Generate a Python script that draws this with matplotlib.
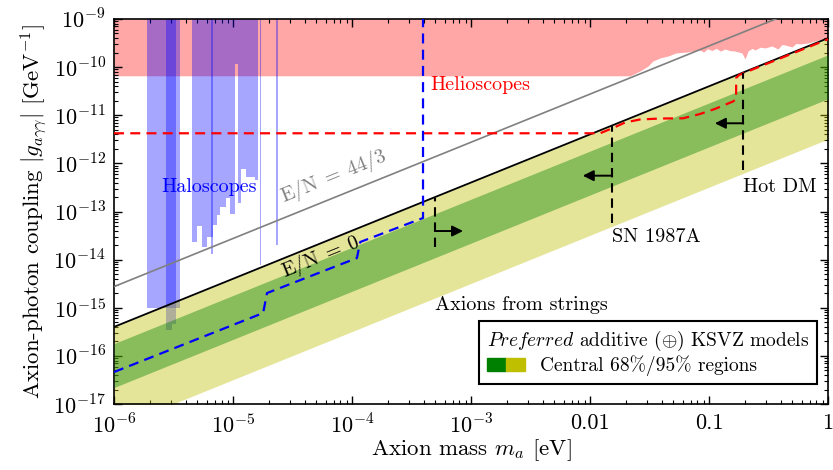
import numpy as np
import matplotlib
matplotlib.use("Agg")
import matplotlib.pyplot as plt
from matplotlib.patches import Patch
from matplotlib.legend_handler import HandlerTuple
from matplotlib.ticker import LogLocator, FixedLocator, FixedFormatter, NullFormatter

plt.rcParams['font.family'] = 'serif'
plt.rcParams['font.serif'] = ['cmr10']
plt.rcParams['mathtext.fontset'] = 'cm'
plt.rcParams['axes.formatter.use_mathtext'] = True

# --- data (mass in eV, coupling in GeV^-1) ---
# helioscope exclusion, lower edge
helio_m = [1e-6, 0.0217, 0.0263, 0.0307, 0.0338, 0.0387, 0.0452, 0.0528, 0.0653,
           0.0839, 0.090, 0.097, 0.106, 0.115, 0.125, 0.136, 0.150, 0.165, 0.189,
           0.201, 0.213, 0.230, 0.244, 0.270, 0.296, 0.338, 0.380, 0.410, 0.436,
           0.498, 0.540, 0.582, 0.679, 0.778, 0.891, 1.0]
helio_g = [6.6e-11, 6.6e-11, 8.3e-11, 1.05e-10, 1.34e-10, 1.55e-10, 1.70e-10, 1.97e-10, 2.06e-10,
           2.27e-10, 2.05e-10, 2.40e-10, 2.21e-10, 2.45e-10, 2.15e-10, 2.38e-10, 2.20e-10, 2.16e-10, 1.97e-10,
           1.48e-10, 2.16e-10, 2.45e-10, 2.27e-10, 2.60e-10, 2.50e-10, 2.75e-10, 2.38e-10, 2.95e-10, 2.88e-10,
           2.62e-10, 3.10e-10, 3.03e-10, 3.17e-10, 3.49e-10, 3.84e-10, 4.23e-10]

# haloscope exclusions (blue)
haloA_m = [1.91e-6, 3.60e-6]
haloA_g = [1.0e-15, 1.0e-15]
haloB_m = [4.50e-6, 5.01e-6, 5.46e-6, 6.01e-6, 6.53e-6, 6.75e-6, 7.29e-6, 7.78e-6,
           8.73e-6, 9.44e-6, 1.04e-5, 1.11e-5, 1.17e-5, 1.29e-5, 1.53e-5, 1.63e-5]
haloB_g = [2.35e-14, 5.0e-14, 1.86e-14, 3.0e-14, 3.0e-14, 5.2e-14, 8.5e-14, 1.26e-13,
           1.94e-13, 8.7e-14, 1.16e-10, 1.5e-13, 7.6e-13, 5.1e-13, 4.5e-13, 4.5e-13]
# narrow haloscope bars: left edge, right edge, lower limit
bars_lo = [2.75e-6, 3.05e-6, 6.53e-6, 1.68e-5, 2.30e-5]
bars_hi = [3.05e-6, 3.30e-6, 6.75e-6, 1.71e-5, 2.41e-5]
bars_g = [3.4e-16, 4.5e-16, 1.3e-14, 7.9e-15, 2.0e-14]

# projections
helio_proj_m = [1e-6, 0.01213, 0.0156, 0.0197, 0.0263, 0.0387, 0.0605, 0.0839, 0.112,
                0.159, 0.169, 0.169, 0.179, 0.201, 1.0]
helio_proj_g = [4.22e-12, 4.22e-12, 5.43e-12, 7.07e-12, 8.16e-12, 8.55e-12, 8.64e-12, 1.06e-11, 1.35e-11,
                1.93e-11, 2.18e-11, 5.94e-11, 6.86e-11, 7.73e-11, 3.8e-10]
halo_proj_m = [1e-6, 1.79e-5, 1.93e-5, 1.10e-4, 1.17e-4, 3.95e-4, 3.95e-4]
halo_proj_g = [4.62e-17, 7.78e-16, 2.02e-15, 1.08e-14, 2.32e-14, 7.33e-14, 1e-9]

# model lines and bands (end points)
line_m = [1e-6, 1.0]
en0_g = [4.0e-16, 4.0e-10]
en443_g = [2.75e-15, 2.75e-9]
band95_lo = [3.2e-18, 3.2e-12]
band68_hi = [1.8e-16, 1.8e-10]
band68_lo = [2.2e-17, 2.2e-11]

# astrophysical / cosmological bounds
bound_names = ['Axions from strings', 'SN 1987A', 'Hot DM']
bound_m = [5.0e-4, 0.0152, 0.194]
bound_top = [1.95e-13, 5.9e-12, 7.6e-11]
bound_bot = [1.84e-14, 5.69e-14, 7.28e-13]
arrow_g = [3.93e-14, 5.55e-13, 6.81e-12]
arrow_tip = [8.57e-4, 8.69e-3, 0.112]
label_g = [1.14e-15, 2.95e-14, 3.27e-13]

x_ticks = [1e-6, 1e-5, 1e-4, 1e-3, 1e-2, 1e-1, 1.0]
x_ticklabels = [r'$10^{-6}$', r'$10^{-5}$', r'$10^{-4}$', r'$10^{-3}$', '0.01', '0.1', '1']
y_ticks = [1e-17, 1e-16, 1e-15, 1e-14, 1e-13, 1e-12, 1e-11, 1e-10, 1e-9]
y_ticklabels = [r'$10^{-%d}$' % k for k in range(17, 8, -1)]

fig = plt.figure(figsize=(8.33, 4.70), dpi=100)
ax = fig.add_axes([0.1369, 0.1404, 0.8571, 0.8192])
ax.set_xscale('log')
ax.set_yscale('log')

# exclusions
ax.fill_between(helio_m, helio_g, 1e-9, color='red', alpha=0.35, lw=0, zorder=1)
ax.fill_between(haloA_m, haloA_g, 1e-9, color='blue', alpha=0.35, lw=0, zorder=2)
ax.fill_between(haloB_m, haloB_g, 1e-9, step='post', color='blue', alpha=0.35, lw=0, zorder=2)
for lo, hi, g in zip(bars_lo, bars_hi, bars_g):
    ax.fill_between([lo, hi], [g, g], 1e-9, color='blue', alpha=0.35, lw=0, zorder=2)

# KSVZ bands
ax.fill_between(line_m, band95_lo, en0_g, color='y', alpha=0.4, lw=0, zorder=2.5)
ax.fill_between(line_m, band68_lo, band68_hi, color='green', alpha=0.4, lw=0, zorder=2.6)

ax.plot(line_m, en0_g, color='k', lw=1.3, zorder=3)
ax.plot(line_m, en443_g, color='gray', lw=1.2, zorder=3)

ax.plot(helio_proj_m, helio_proj_g, color='red', lw=1.6, dashes=(4.5, 2.8), zorder=4)
ax.plot(halo_proj_m, halo_proj_g, color='blue', lw=1.6, dashes=(4.5, 2.8), zorder=4)

for name, m, top, bot, ga, tip, gl in zip(bound_names, bound_m, bound_top, bound_bot,
                                         arrow_g, arrow_tip, label_g):
    ax.plot([m, m], [bot, top], color='k', lw=1.5, dashes=(4.5, 2.8), zorder=4)
    ax.annotate('', xy=(tip, ga), xytext=(m, ga),
                arrowprops=dict(arrowstyle='-|>', color='k', lw=1.4,
                                mutation_scale=16, shrinkA=0, shrinkB=0), zorder=4)
    ax.text(m, gl, name, fontsize=14.5, ha='left', va='center', zorder=5)

ax.text(4.52e-4, 4.25e-11, 'Helioscopes', color='red', fontsize=14.5, ha='left', va='center')
ax.text(2.52e-6, 3.27e-13, 'Haloscopes', color='blue', fontsize=14.5, ha='left', va='center', zorder=5)
ax.text(7.06e-5, 5.47e-13, r'$\mathrm{E/N}\;=\;44/3$', color='gray', fontsize=14.5,
        rotation=22, rotation_mode='anchor', ha='center', va='center')
ax.text(5.48e-5, 1.13e-14, r'$\mathrm{E/N}\;=\;0$', color='k', fontsize=14.5,
        rotation=22, rotation_mode='anchor', ha='center', va='center', zorder=5)

ax.set_xlim(1e-6, 1.0)
ax.set_ylim(1e-17, 1e-9)
ax.xaxis.set_major_locator(FixedLocator(x_ticks))
ax.xaxis.set_major_formatter(FixedFormatter(x_ticklabels))
ax.yaxis.set_major_locator(FixedLocator(y_ticks))
ax.yaxis.set_major_formatter(FixedFormatter(y_ticklabels))
ax.xaxis.set_minor_locator(LogLocator(base=10, subs=np.arange(2, 10), numticks=100))
ax.yaxis.set_minor_locator(LogLocator(base=10, subs=np.arange(2, 10), numticks=100))
ax.xaxis.set_minor_formatter(NullFormatter())
ax.yaxis.set_minor_formatter(NullFormatter())
ax.tick_params(which='both', direction='in', top=True, right=True, labelsize=16)
ax.tick_params(which='major', length=5.5, width=1.0)
ax.tick_params(which='minor', length=3, width=0.8)
ax.tick_params(axis='x', which='major', pad=7)
ax.tick_params(axis='y', which='major', pad=6)
for s in ax.spines.values():
    s.set_linewidth(1.2)

ax.set_xlabel(r'Axion mass $m_a$ [eV]', fontsize=16.5, labelpad=0)
ax.set_ylabel(r'Axion-photon coupling $|g_{a\gamma\gamma}|$ [GeV$^{-1}$]', fontsize=16.5, labelpad=2)

handles = [(Patch(color='green'), Patch(color='y'))]
leg = ax.legend(handles, ['Central 68%/95% regions'],
                handler_map={tuple: HandlerTuple(ndivide=None, pad=0)},
                title=r'$\mathit{Preferred}$ additive ($\oplus$) KSVZ models',
                title_fontsize=14, fontsize=14, loc='lower right',
                bbox_to_anchor=(0.985, 0.052), borderaxespad=0, fancybox=False,
                edgecolor='k', framealpha=1, handlelength=1.95, handleheight=0.7,
                handletextpad=0.75, alignment='left', borderpad=0.4, labelspacing=0.15)
leg.get_frame().set_linewidth(1.5)
leg.set_zorder(6)

fig.savefig('out.png', dpi=100)
